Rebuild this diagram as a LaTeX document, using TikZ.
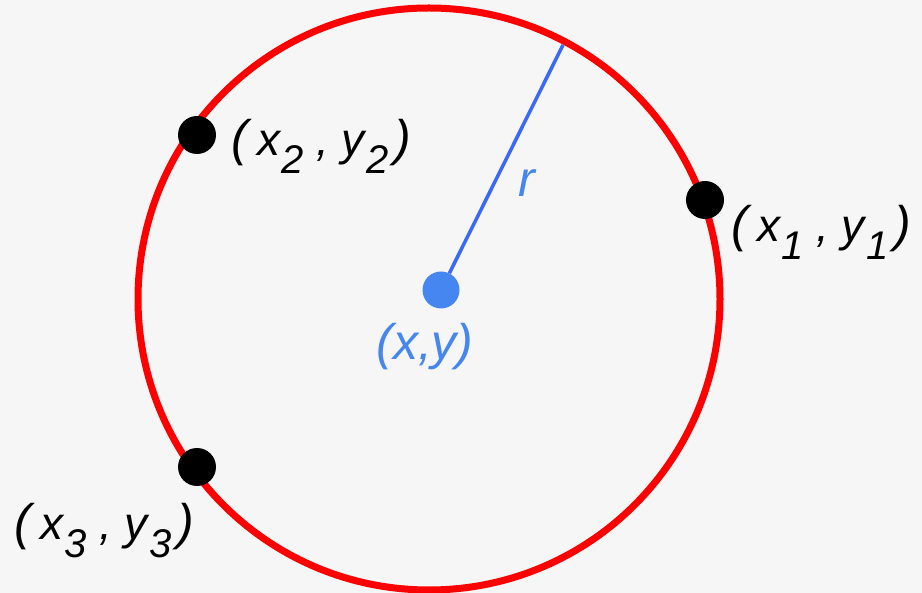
\documentclass[tikz,border=0pt]{standalone}
\usepackage{xcolor}
\usepackage{fontspec}
\setmainfont{Liberation Sans}
\usepackage{tikz}
\usetikzlibrary{positioning}

\definecolor{bgtile}{RGB}{246,246,246}
\definecolor{ctrblue}{RGB}{70,134,240}
\definecolor{radblue}{RGB}{55,105,250}
\newcommand{\idx}[1]{\raisebox{-18pt}{\fontsize{40}{40}\selectfont #1}}
\newcommand{\bigpar}[1]{{\fontsize{50}{50}\selectfont #1}}
\newcommand{\ptxt}[1]{\bigpar{(}\hspace{10pt}x\hspace{1pt}\idx{#1}\hspace{12pt},\hspace{13pt}y\hspace{2pt}\idx{#1}\hspace{5pt}\bigpar{)}}

\begin{document}
\begin{tikzpicture}[x=1pt,y=-1pt,
  ptdot/.style={circle,fill=black,inner sep=0pt,minimum size=38pt},
  ptlbl/.style={anchor=base west,inner sep=0pt,font=\fontsize{46}{48}\selectfont\itshape},
  bluelbl/.style={inner sep=0pt,text=ctrblue,font=\fontsize{50}{52}\selectfont\itshape}]
\fill[bgtile] (0,0) rectangle (922,593);
\useasboundingbox (0,0) rectangle (922,593);
\draw[red,line width=7pt] (429,299) circle (291pt);
\node[circle,fill=ctrblue,inner sep=0pt,minimum size=37pt] (ctr) at (441,290) {};
\coordinate (rim) at (563,45);
\draw[radblue,line width=3.5pt] (ctr) -- (rim);
\node[bluelbl] (rlab) at (527,183) {r};
\node[bluelbl] (ctrlab) at (425,347) {(x,y)};
\node[ptdot] (p1) at (705,200) {};
\node[ptdot] (p2) at (197,135) {};
\node[ptdot] (p3) at (197,467) {};
\node[ptlbl] (l1) at (731,242) {\ptxt{1}};
\node[ptlbl] (l2) at (231,156) {\ptxt{2}};
\node[ptlbl] (l3) at (14,540) {\ptxt{3}};
\end{tikzpicture}
\end{document}
